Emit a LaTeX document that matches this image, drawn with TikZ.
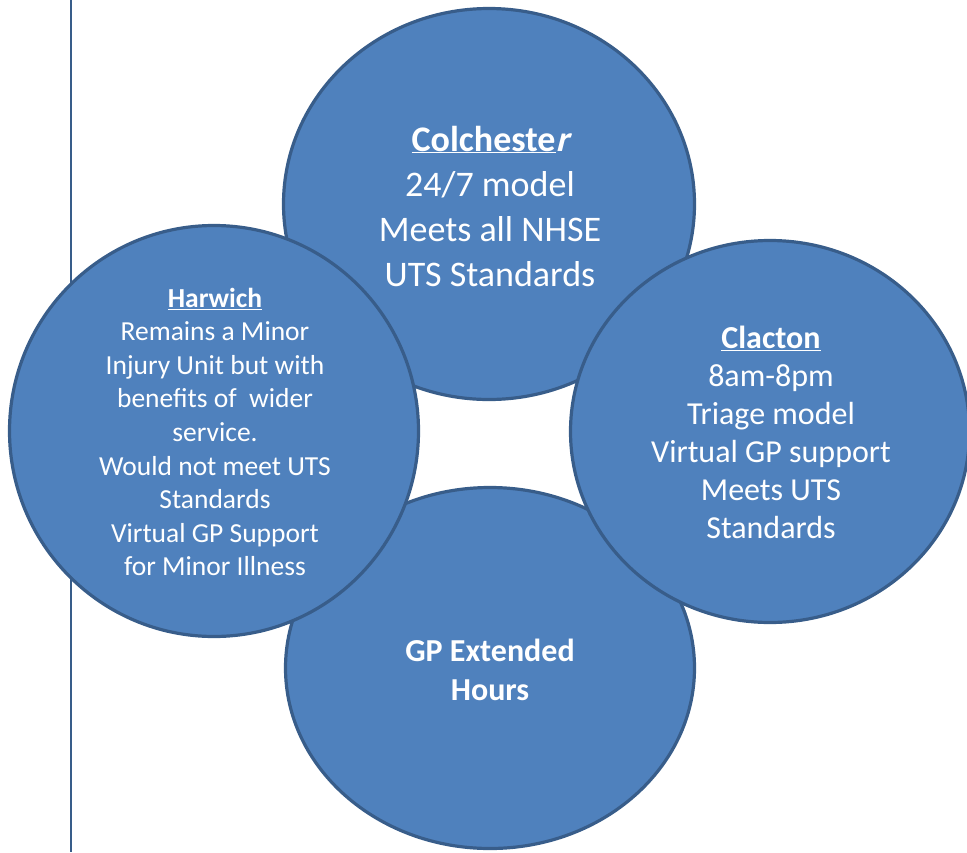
\documentclass[tikz,border=0pt]{standalone}
\usepackage{fontspec}
\setmainfont{Carlito}
\newfontfamily\cslantfam{Carlito}[BoldFeatures={FakeSlant=0.25}]
\definecolor{cfill}{HTML}{4F81BD}
\definecolor{cline}{HTML}{385D8A}
\begin{document}
\begin{tikzpicture}[x=1pt,y=-1pt,
  blob/.style={fill=cfill,draw=cline,line width=3.2pt},
  txt/.style={text=white,align=center,inner sep=0pt}]
\useasboundingbox (0,0) rectangle (967,852);
\draw[cline,line width=1.4pt] (71,0) -- (71,852);
% circles (draw order: top, bottom, left, right)
\path[blob] (489,204) ellipse [x radius=205.5, y radius=195.5];
\path[blob] (490,668) ellipse [x radius=204.5, y radius=180.5];
\path[blob] (214,431) ellipse [x radius=204.5, y radius=205.5];
\path[blob] (770,431.5) ellipse [x radius=199.5, y radius=191];
% texts
\node[txt,font=\fontsize{36}{45}\selectfont] (colt) at (490,206)
  {\underline{\textbf{Colcheste}}{\cslantfam\bfseries r}\\24/7 model\\Meets all NHSE\\UTS Standards};
\node[txt,font=\fontsize{27.5}{33.6}\selectfont] (hart) at (215,432)
  {\underline{\textbf{Harwich}}\\Remains a Minor\\Injury Unit but with\\benefits of \ wider\\service.\\Would not meet UTS\\Standards\\Virtual GP Support\\for Minor Illness};
\node[txt,font=\fontsize{32}{38}\selectfont] (clat) at (771,432)
  {\underline{\textbf{Clacton}}\\8am-8pm\\Triage model\\Virtual GP support\\Meets UTS\\Standards};
\node[txt,font=\fontsize{32}{39}\selectfont\bfseries] (gpt) at (490,670)
  {GP Extended\\Hours};
\end{tikzpicture}
\end{document}
